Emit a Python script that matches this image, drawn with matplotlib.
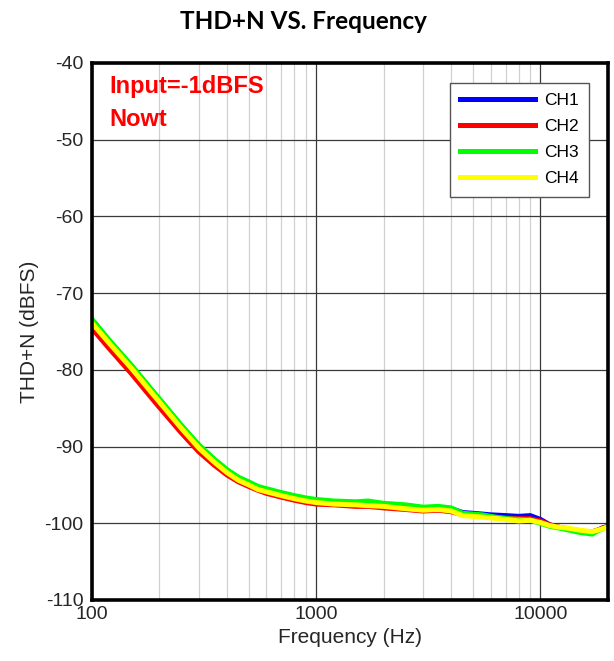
import matplotlib.pyplot as plt
import matplotlib.ticker as ticker
import numpy as np

plt.rcParams['font.family'] = ['Liberation Sans', 'DejaVu Sans']
plt.rcParams['axes.unicode_minus'] = False

# measured points (Hz, dBFS)
freq = [100, 120, 150, 180, 200, 250, 300, 350, 400, 450, 500, 550, 600, 700,
        800, 900, 1000, 1200, 1500, 1700, 2000, 2500, 3000, 3500, 4000, 4500,
        5000, 5500, 6000, 7000, 8000, 9000, 10000, 11000, 12000, 13000, 15000,
        16000, 17000, 18000, 19000, 20000]

ch1 = [-73.5, -76.3, -79.5, -82.3, -83.9, -87.3, -89.9, -91.7, -93.1, -94.1,
       -94.7, -95.3, -95.6, -96.1, -96.5, -96.8, -97.0, -97.2, -97.3, -97.3,
       -97.5, -97.7, -98.0, -97.9, -98.1, -98.6, -98.7, -98.8, -98.9, -99.0,
       -99.1, -99.0, -99.5, -100.2, -100.5, -100.7, -101.0, -101.1, -101.2,
       -100.9, -100.6, -100.4]
ch2 = [-74.6, -77.3, -80.5, -83.3, -84.9, -88.2, -90.7, -92.4, -93.7, -94.6,
       -95.2, -95.7, -96.1, -96.6, -97.0, -97.3, -97.5, -97.6, -97.8, -97.8,
       -98.0, -98.2, -98.4, -98.3, -98.5, -98.9, -99.0, -99.1, -99.2, -99.3,
       -99.4, -99.4, -99.7, -100.2, -100.5, -100.7, -101.0, -101.1, -101.1,
       -100.9, -100.6, -100.4]
ch3 = [-73.4, -76.2, -79.4, -82.2, -83.8, -87.2, -89.8, -91.6, -93.0, -94.0,
       -94.6, -95.2, -95.5, -96.0, -96.4, -96.7, -96.9, -97.1, -97.2, -97.1,
       -97.4, -97.6, -97.9, -97.8, -98.0, -98.7, -98.8, -98.9, -99.1, -99.4,
       -99.5, -99.6, -100.0, -100.4, -100.6, -100.8, -101.2, -101.3, -101.4,
       -101.0, -100.7, -100.4]
ch4 = [-73.9, -76.6, -79.8, -82.6, -84.2, -87.6, -90.2, -92.0, -93.4, -94.4,
       -95.0, -95.6, -95.9, -96.4, -96.8, -97.1, -97.3, -97.5, -97.6, -97.7,
       -97.8, -98.1, -98.3, -98.2, -98.4, -99.0, -99.1, -99.2, -99.3, -99.5,
       -99.7, -99.6, -99.9, -100.3, -100.5, -100.6, -100.9, -101.0, -101.1,
       -100.9, -100.7, -100.5]

labels = ['CH1', 'CH2', 'CH3', 'CH4']
colors = ['#0000FF', '#FF0000', '#00FF00', '#FFFF00']
yticks = [-110, -100, -90, -80, -70, -60, -50, -40]

fig = plt.figure(figsize=(6.14, 6.61), dpi=100)
ax = fig.add_axes([0.1498, 0.0923, 0.8404, 0.8124])

for ys, lab, c in zip([ch1, ch2, ch3, ch4], labels, colors):
    ax.plot(freq, ys, color=c, lw=3.6, label=lab)

ax.set_xscale('log')
ax.set_xlim(100, 20000)
ax.set_ylim(-110, -40)
ax.set_yticks(yticks)
ax.xaxis.set_major_locator(ticker.FixedLocator([100, 1000, 10000]))
ax.xaxis.set_major_formatter(ticker.FixedFormatter(['100', '1000', '10000']))
ax.xaxis.set_minor_locator(ticker.LogLocator(base=10, subs=np.arange(2, 10)))
ax.xaxis.set_minor_formatter(ticker.NullFormatter())

ax.grid(which='major', color='#3a3a3a', lw=0.9)
ax.grid(which='minor', axis='x', color='#d0d0d0', lw=0.9)
ax.set_axisbelow(True)
ax.tick_params(which='both', length=0, labelsize=14, colors='#262626')
ax.tick_params(axis='x', pad=4)
ax.tick_params(axis='y', pad=6)
for s in ax.spines.values():
    s.set_linewidth(2.6)
    s.set_color('black')

ax.set_xlabel('Frequency (Hz)', fontsize=15, color='#262626', labelpad=4)
ax.set_ylabel('THD+N (dBFS)', fontsize=15, color='#262626', labelpad=4)

ax.text(0.033, 0.944, 'Input=-1dBFS', transform=ax.transAxes, color='red',
        fontsize=17, fontweight='bold', va='baseline')
ax.text(0.033, 0.883, 'Nowt', transform=ax.transAxes, color='red',
        fontsize=17, fontweight='bold', va='baseline')

leg = ax.legend(loc='upper right', bbox_to_anchor=(0.963, 0.963), borderaxespad=0,
                fontsize=12.5, handlelength=4.3, handletextpad=0.5, labelspacing=0.62,
                borderpad=0.6, fancybox=False, framealpha=1, edgecolor='#555555')
leg.get_frame().set_linewidth(1.0)
for h in leg.get_lines():
    h.set_linewidth(3.6)

fig.text(0.495, 0.956, 'THD+N VS. Frequency', ha='center', va='baseline',
         fontsize=17.5, fontweight='bold', family=['Lato', 'DejaVu Sans'])

fig.savefig('out.png', dpi=100)
